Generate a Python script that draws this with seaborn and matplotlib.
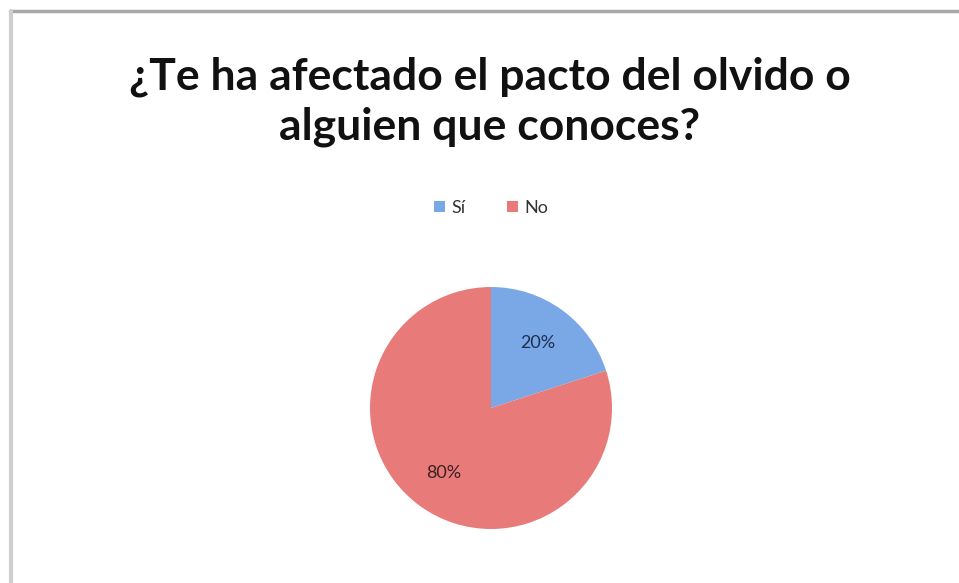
import matplotlib
matplotlib.use("Agg")
import matplotlib.pyplot as plt
import seaborn as sns
from matplotlib.lines import Line2D
from matplotlib.patches import Patch

categories = ["Sí", "No"]
values = [20, 80]
colors = ["#7aa7e6", "#e97a7a"]
label_colors = ["#1c3050", "#3b2222"]
title = "¿Te ha afectado el pacto del olvido o\nalguien que conoces?"

sns.set_theme(style="white")
plt.rcParams["font.family"] = ["Lato", "DejaVu Sans"]

fig = plt.figure(figsize=(9.59, 5.83), dpi=100)
fig.patch.set_facecolor("white")

# frame lines (top and left)
fig.add_artist(Line2D([0.0105, 1.0], [1 - 11 / 583, 1 - 11 / 583], transform=fig.transFigure, color="#a8a8a8", lw=2.5))
fig.add_artist(Line2D([11 / 959, 11 / 959], [0, 1 - 11 / 583], transform=fig.transFigure, color="#cfcfcf", lw=3))

ax = fig.add_axes([(491 - 121) / 959, 1 - 529 / 583, 242 / 959, 242 / 583])
wedges, texts, autotexts = ax.pie(
    values, colors=colors, startangle=90, counterclock=False,
    autopct="%1.0f%%", pctdistance=0.66,
    wedgeprops=dict(edgecolor="none"),
    textprops=dict(fontsize=13),
)
for t, c in zip(autotexts, label_colors):
    t.set_color(c)
ax.set_aspect("equal")
ax.set_xlim(-1, 1)
ax.set_ylim(-1, 1)
ax.axis("off")

fig.text(0.511, 1 - 102 / 583, title, ha="center", va="center", fontsize=32,
         fontweight="bold", color="#111111", linespacing=1.3)

handles = [Patch(facecolor=c, edgecolor="none") for c in colors]
fig.legend(handles, categories, loc="center", bbox_to_anchor=(0.512, 1 - 208 / 583),
           ncol=2, frameon=False, fontsize=13, handlelength=0.6, handleheight=0.6,
           handletextpad=0.35, columnspacing=2.3, labelcolor="#333333")

fig.savefig("out.png", dpi=100)
